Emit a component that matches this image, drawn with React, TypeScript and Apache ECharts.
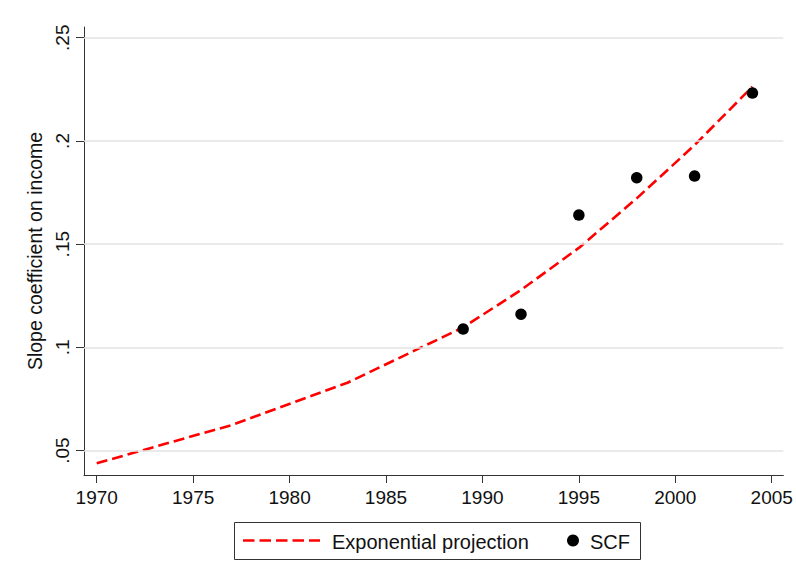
import React, { useEffect, useRef } from "react";
import * as echarts from "echarts";

const projYears = [1970, 1977, 1983, 1989, 1992, 1995, 1998, 2001, 2004];
const projValues = [0.0439, 0.0624, 0.0829, 0.1097, 0.1278, 0.1482, 0.1722, 0.198, 0.2263];
const scfYears = [1989, 1992, 1995, 1998, 2001, 2004];
const scfValues = [0.1089, 0.1161, 0.1641, 0.1822, 0.183, 0.2232];
const xTicks = [1970, 1975, 1980, 1985, 1990, 1995, 2000, 2005];
const yTicks = [0.05, 0.1, 0.15, 0.2, 0.25];
const legendNames = ["Exponential projection", "SCF"];

const FONT = "'Liberation Sans', Arial, sans-serif";

export default function App() {
  const ref = useRef<HTMLDivElement>(null);
  useEffect(() => {
    if (!ref.current) return;
    const chart = echarts.init(ref.current, undefined, { renderer: "svg" });
    chart.setOption({
      animation: false,
      backgroundColor: "#ffffff",
      textStyle: { fontFamily: FONT },
      grid: { left: 84, right: 12.7, top: 27, bottom: 112, containLabel: false },
      xAxis: {
        type: "value",
        min: 1969.34,
        max: 2005.6,
        axisLine: { show: true, onZero: false, lineStyle: { color: "#333", width: 1 } },
        axisTick: { show: true, length: 8, customValues: xTicks, lineStyle: { color: "#333" } },
        axisLabel: {
          customValues: xTicks,
          margin: 13,
          fontSize: 19,
          color: "#111",
          fontFamily: FONT,
          formatter: (v: number) => String(Math.round(v)),
        },
        splitLine: { show: false },
      },
      yAxis: {
        type: "value",
        min: 0.0382,
        max: 0.2552,
        name: "Slope coefficient on income",
        nameLocation: "middle",
        nameGap: 34,
        nameTextStyle: { fontSize: 19.5, color: "#111", fontFamily: FONT },
        axisLine: { show: true, onZero: false, lineStyle: { color: "#333", width: 1 } },
        axisTick: { show: true, length: 8, customValues: yTicks, lineStyle: { color: "#333" } },
        axisLabel: {
          customValues: yTicks,
          rotate: 90,
          margin: 12,
          fontSize: 19,
          color: "#111",
          fontFamily: FONT,
          formatter: (v: number) => String(Number(v.toFixed(4))).replace(/^0/, ""),
        },
        splitLine: { show: false },
      },
      graphic: [
        {
          type: "rect",
          shape: { x: 234.5, y: 522.5, width: 406, height: 37 },
          style: { fill: "none", stroke: "#333", lineWidth: 1 },
          silent: true,
        },
        {
          type: "line",
          shape: { x1: 243, y1: 540.5, x2: 320, y2: 540.5 },
          style: { stroke: "#ff0000", lineWidth: 2.6, lineDash: [11.5, 5] },
          silent: true,
        },
        {
          type: "text",
          x: 332,
          y: 542,
          style: {
            text: legendNames[0],
            fontSize: 20,
            fontFamily: FONT,
            fill: "#111",
            verticalAlign: "middle",
            align: "left",
          },
          silent: true,
        },
        {
          type: "circle",
          shape: { cx: 573, cy: 540.5, r: 6 },
          style: { fill: "#000" },
          silent: true,
        },
        {
          type: "text",
          x: 590,
          y: 542,
          style: {
            text: legendNames[1],
            fontSize: 20,
            fontFamily: FONT,
            fill: "#111",
            verticalAlign: "middle",
            align: "left",
          },
          silent: true,
        },
      ],
      series: [
        {
          name: "grid",
          type: "line",
          data: [],
          z: 1,
          silent: true,
          markLine: {
            silent: true,
            symbol: "none",
            label: { show: false },
            lineStyle: { color: "#e3e3e3", width: 1.5, type: "solid" },
            data: yTicks.map((v) => ({ yAxis: v })),
          },
        },
        {
          name: legendNames[0],
          type: "line",
          z: 3,
          symbol: "none",
          data: projYears.map((y, i) => [y, projValues[i]]),
          lineStyle: { color: "#ff0000", width: 2.6, type: [11, 5] },
          itemStyle: { color: "#ff0000" },
        },
        {
          name: legendNames[1],
          type: "scatter",
          z: 4,
          symbol: "circle",
          symbolSize: 11.5,
          data: scfYears.map((y, i) => [y, scfValues[i]]),
          itemStyle: { color: "#000000", opacity: 1 },
        },
      ],
    });
    return () => chart.dispose();
  }, []);
  return (
    <div
      ref={ref}
      style={{ position: "fixed", left: 0, top: 0, width: 796, height: 587, background: "#fff" }}
    />
  );
}
